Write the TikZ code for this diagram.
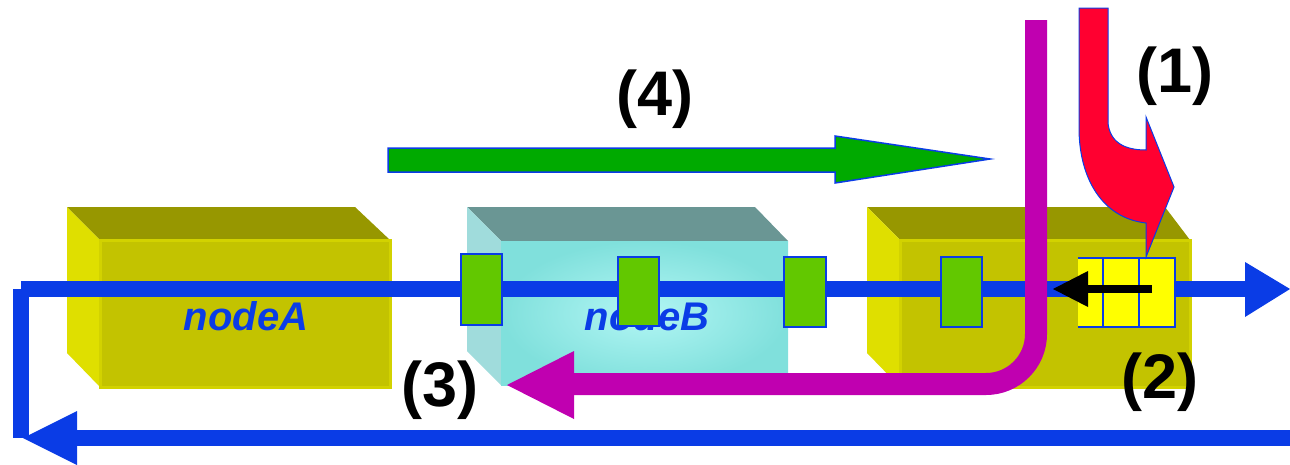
\documentclass[tikz,border=0pt]{standalone}
\usepackage{fontspec}
\setmainfont{Liberation Sans}
\definecolor{lineblue}{HTML}{0A3CE6}
\definecolor{magentaflow}{HTML}{C000B0}
\definecolor{redflow}{HTML}{FF0030}
\definecolor{greenflow}{HTML}{00AA00}
\definecolor{portgreen}{HTML}{62C800}
\definecolor{cellyellow}{HTML}{FFFF00}
\definecolor{yTop}{HTML}{979700}
\definecolor{yFront}{HTML}{C3C300}
\definecolor{ySide}{HTML}{DFDF00}
\definecolor{yEdge}{HTML}{D2D200}
\definecolor{cTop}{HTML}{6A9694}
\definecolor{cFront}{HTML}{80E0DC}
\definecolor{cInner}{HTML}{B2F6F4}
\definecolor{cSide}{HTML}{A0DCDC}
\tikzset{
  boxlabel/.style={anchor=base,text=lineblue,font=\fontsize{40}{46}\selectfont\bfseries\itshape},
  numlabel/.style={anchor=center,text=black,font=\fontsize{63}{70}\selectfont\bfseries},
  port/.style={fill=portgreen,draw=lineblue,line width=2},
  bus/.style={draw=lineblue,line width=16},
  flowpath/.style={draw=magentaflow,line width=22,rounded corners=50}
}
\begin{document}
\begin{tikzpicture}[x=1pt,y=-1pt]
\useasboundingbox (0,0) rectangle (1290,464);
% ---- box A
\fill[yTop] (67,207) -- (355,207) -- (390,240) -- (100,240) -- cycle;
\fill[ySide] (67,207) -- (100,240) -- (100,387) -- (67,353) -- cycle;
\draw[fill=yFront,draw=yEdge,line width=3] (100,240) rectangle (390,387);
\node[boxlabel] (nodeA) at (246,330) {nodeA};
% ---- box B
\fill[cTop] (467,207) -- (755,207) -- (788,241) -- (501,241) -- cycle;
\fill[cSide] (467,207) -- (501,241) -- (501,385) -- (467,351) -- cycle;
\shade[inner color=cInner,outer color=cFront] (501,241) rectangle (788,385);
\node[boxlabel] (nodeB) at (647,330) {nodeB};
% ---- box C
\fill[yTop] (867,207) -- (1165,207) -- (1190,240) -- (900,240) -- cycle;
\fill[ySide] (867,207) -- (900,240) -- (900,387) -- (867,353) -- cycle;
\draw[fill=yFront,draw=yEdge,line width=3] (900,240) rectangle (1190,387);
% ---- blue bus
\coordinate (busL) at (21,289);
\coordinate (busR) at (1245,289);
\coordinate (retR) at (1290,438);
\coordinate (retL) at (77,438);
\fill[lineblue] (13,289) rectangle (29,438);
\draw[bus] (busL) -- (busR);
\fill[lineblue] (1245,262) -- (1290,289) -- (1245,317) -- cycle;
\draw[bus] (retR) -- (retL);
\fill[lineblue] (77,411) -- (23,438) -- (77,465) -- cycle;
% ---- ports
\draw[port] (461,254) rectangle (502,325);
\draw[port] (618,257) rectangle (659,326);
\draw[port] (784,257) rectangle (826,327);
\draw[port] (941,257) rectangle (982,327);
% ---- queue cells
\fill[cellyellow] (1078,258) rectangle (1175,327);
\draw[lineblue,line width=2] (1078,258) -- (1175,258) -- (1175,327) -- (1078,327);
\draw[lineblue,line width=2] (1103,258) -- (1103,327) (1139,258) -- (1139,327);
% black arrow
\draw[black,line width=8] (1152,289) -- (1087,289);
\fill[black] (1088,271) -- (1053,289) -- (1088,307) -- cycle;
% ---- magenta flow (3)
\coordinate (mTop) at (1036,20);
\coordinate (mCorner) at (1036,384);
\coordinate (mEnd) at (574,384);
\draw[flowpath] (mTop) -- (mCorner) -- (mEnd);
\fill[magentaflow] (574,351) -- (507,385) -- (574,419) -- cycle;
% ---- red flow (1)
\draw[fill=redflow,draw=lineblue,line width=1]
  (1079,8) -- (1108,8) -- (1108,123)
  .. controls (1110,142) and (1124,150) .. (1146,150)
  -- (1146,117) -- (1174,187) -- (1146,257) -- (1146,223)
  .. controls (1102,218) and (1079,178) .. (1079,128) -- cycle;
% ---- green flow (4)
\draw[fill=greenflow,draw=lineblue,line width=1.5]
  (388,148) -- (835,148) -- (835,136) -- (990,159) -- (835,183) -- (835,172) -- (388,172) -- cycle;
% ---- labels
\node[numlabel] (l1) at (1175,76) {(1)};
\node[numlabel] (l2) at (1160,382) {(2)};
\node[numlabel] (l3) at (440,390) {(3)};
\node[numlabel] (l4) at (655,99) {(4)};
\end{tikzpicture}
\end{document}
